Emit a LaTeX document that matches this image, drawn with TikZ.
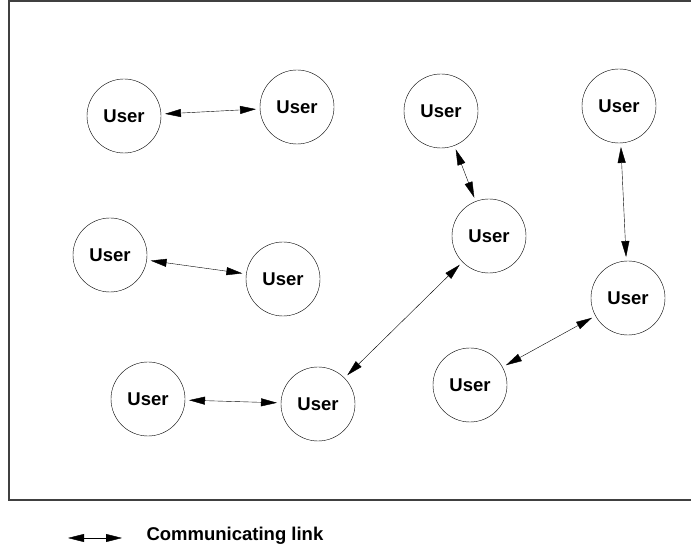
\documentclass[tikz,border=0pt]{standalone}
\usepackage{fontspec}
\setmainfont{Liberation Sans}
\usepackage{tikz}
\usepackage{tkz-graph}
\usetikzlibrary{arrows.meta,%
                shapes,positioning}

\begin{document}
\begin{tikzpicture}[x=1pt,y=1pt]
\useasboundingbox (0,0) rectangle (691,554);
\tikzset{VertexStyle/.style={draw,circle,thin,minimum size=74pt,inner sep=0pt,
                             font=\bfseries\fontsize{18.5}{20}\selectfont},
         EdgeStyle/.style={{Triangle[length=16pt,width=8pt]}-{Triangle[length=16pt,width=8pt]},
                           thin,shorten <=4pt,shorten >=4pt}}
\draw[black!75,line width=1.4pt] (9,553) rectangle (720,54);
\Vertex[x=124,y=438,L=User]{A}
\Vertex[x=297,y=447,L=User]{B}
\Vertex[x=441,y=443,L=User]{C}
\Vertex[x=619,y=448,L=User]{D}
\Vertex[x=110,y=299,L=User]{E}
\Vertex[x=283,y=275,L=User]{F}
\Vertex[x=489,y=318,L=User]{G}
\Vertex[x=628,y=256,L=User]{H}
\Vertex[x=148,y=155,L=User]{I}
\Vertex[x=318,y=150,L=User]{J}
\Vertex[x=470,y=169,L=User]{K}
\Edge(A)(B)
\Edge(C)(G)
\Edge(D)(H)
\Edge(E)(F)
\Edge(G)(J)
\Edge(I)(J)
\Edge(H)(K)
% legend
\coordinate (lkL) at (68,16);
\coordinate (lkR) at (122,16);
\draw[EdgeStyle,shorten <=0pt,shorten >=0pt] (lkL) -- (lkR);
\node[anchor=west,font=\bfseries\fontsize{18.5}{20}\selectfont] (lktext) at (143,18) {Communicating link};
\end{tikzpicture}
\end{document}
